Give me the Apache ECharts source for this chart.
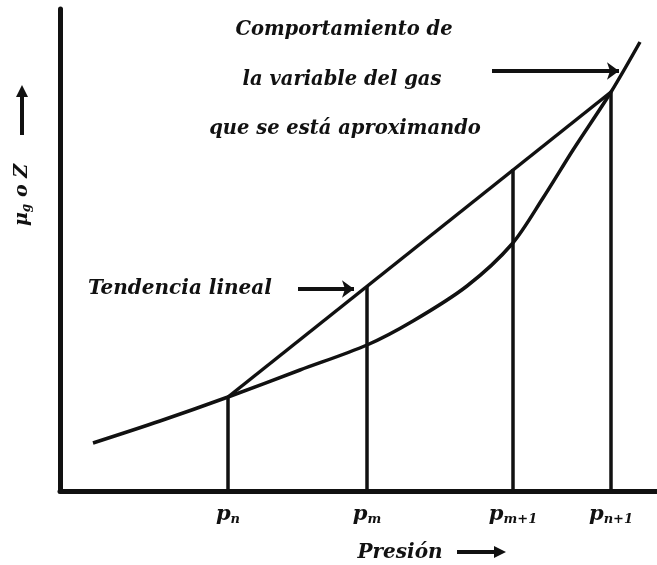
<!DOCTYPE html>
<html>
<head>
<meta charset="utf-8">
<script src="https://cdn.jsdelivr.net/npm/echarts@6/dist/echarts.min.js"></script>
<style>
html,body{margin:0;padding:0;background:#fff;}
#main{width:657px;height:565px;}
</style>
</head>
<body>
<div id="main"></div>
<script>
var curveX = [33, 100, 168, 240, 307, 353, 407, 452, 483, 513, 551, 580];
var curveY = [48, 70, 94, 121, 146, 170, 205, 247, 293, 341, 399, 449];
// tendencia lineal entre pn y pn+1
var linX = [168, 551];
var linY = [94, 399];
// presiones marcadas y altura de cada vertical
var presX = [168, 307, 453, 551];
var presTop = [94, 205, 322, 399];
var presSub = ['n', 'm', 'm+1', 'n+1'];

var FONT = 'DejaVu Serif';
var INK = '#111';

function pairs(xs, ys){
	var out = [];
	for(var i = 0; i < xs.length; i++){
		out.push([xs[i], ys[i]]);
	}
	return out;
}

var series = [
	{
		name: 'curva',
		type: 'line',
		data: pairs(curveX, curveY),
		smooth: 0.3,
		symbol: 'none',
		lineStyle: {color: INK, width: 3.5}
	},
	{
		name: 'lineal',
		type: 'line',
		data: pairs(linX, linY),
		symbol: 'none',
		lineStyle: {color: INK, width: 3.5},
		markLine: {
			silent: true,
			symbol: ['none', 'arrow'],
			symbolSize: [13, 12],
			label: {show: false},
			lineStyle: {color: INK, width: 4, type: 'solid'},
			data: [
				[{coord: [238, 202]}, {coord: [294, 202]}],
				[{coord: [432, 420]}, {coord: [559, 420]}]
			]
		}
	}
];
for(var i = 0; i < presX.length; i++){
	series.push({
		name: 'p' + presSub[i],
		type: 'line',
		data: [[presX[i], 0], [presX[i], presTop[i]]],
		symbol: 'none',
		lineStyle: {color: INK, width: 3.5}
	});
}

var option = {
	backgroundColor: '#fff',
	animation: false,
	grid: {left: 60, right: 0, top: 9, bottom: 74},
	xAxis: {
		type: 'value',
		min: 0,
		max: 597,
		splitLine: {show: false},
		axisTick: {show: false},
		axisLine: {show: true, lineStyle: {color: INK, width: 5}},
		axisLabel: {
			customValues: presX,
			margin: 13,
			formatter: function(v){
				var k = presX.indexOf(v);
				return '{p|p}{s|' + presSub[k] + '}';
			},
			rich: {
				p: {fontFamily: FONT, fontStyle: 'italic', fontWeight: 'bold', fontSize: 21, color: INK, lineHeight: 22},
				s: {fontFamily: FONT, fontStyle: 'italic', fontWeight: 'bold', fontSize: 13, color: INK, lineHeight: 22, verticalAlign: 'bottom', padding: [11, 0, 0, 0]}
			}
		}
	},
	yAxis: {
		type: 'value',
		min: 0,
		max: 482,
		splitLine: {show: false},
		axisTick: {show: false},
		axisLabel: {show: false},
		axisLine: {show: true, lineStyle: {color: INK, width: 5}}
	},
	graphic: [
		{type: 'text', x: 344, y: 30, style: {text: 'Comportamiento de', fill: INK, font: 'italic bold 19.5px "' + FONT + '"', align: 'center', verticalAlign: 'middle'}},
		{type: 'text', x: 342, y: 80, style: {text: 'la variable del gas', fill: INK, font: 'italic bold 19.5px "' + FONT + '"', align: 'center', verticalAlign: 'middle'}},
		{type: 'text', x: 345, y: 129, style: {text: 'que se está aproximando', fill: INK, font: 'italic bold 19.5px "' + FONT + '"', align: 'center', verticalAlign: 'middle'}},
		{type: 'text', x: 88, y: 289, style: {text: 'Tendencia lineal', fill: INK, font: 'italic bold 20px "' + FONT + '"', align: 'left', verticalAlign: 'middle'}},
		{type: 'text', x: 400, y: 553, style: {text: 'Presión', fill: INK, font: 'italic bold 20px "' + FONT + '"', align: 'center', verticalAlign: 'middle'}},
		{type: 'line', shape: {x1: 457, y1: 552, x2: 496, y2: 552}, style: {stroke: INK, lineWidth: 4}},
		{type: 'polygon', shape: {points: [[494, 546], [506, 552], [494, 558]]}, style: {fill: INK}},
		{
			type: 'text', x: 22, y: 195, rotation: Math.PI / 2,
			style: {
				text: '{a|μ}{s|g}{a| o Z}',
				align: 'center', verticalAlign: 'middle',
				rich: {
					a: {fontFamily: FONT, fontStyle: 'italic', fontWeight: 'bold', fontSize: 19, fill: INK, lineHeight: 22},
					s: {fontFamily: FONT, fontStyle: 'italic', fontWeight: 'bold', fontSize: 12, fill: INK, lineHeight: 22, verticalAlign: 'bottom', padding: [9, 0, 0, 0]}
				}
			}
		},
		{type: 'line', shape: {x1: 22, y1: 135, x2: 22, y2: 95}, style: {stroke: INK, lineWidth: 4}},
		{type: 'polygon', shape: {points: [[16, 97], [22, 85], [28, 97]]}, style: {fill: INK}}
	],
	series: series
};

var myChart = echarts.init(document.getElementById('main'), null, {renderer: 'canvas'});
myChart.setOption(option);
</script>
</body>
</html>
